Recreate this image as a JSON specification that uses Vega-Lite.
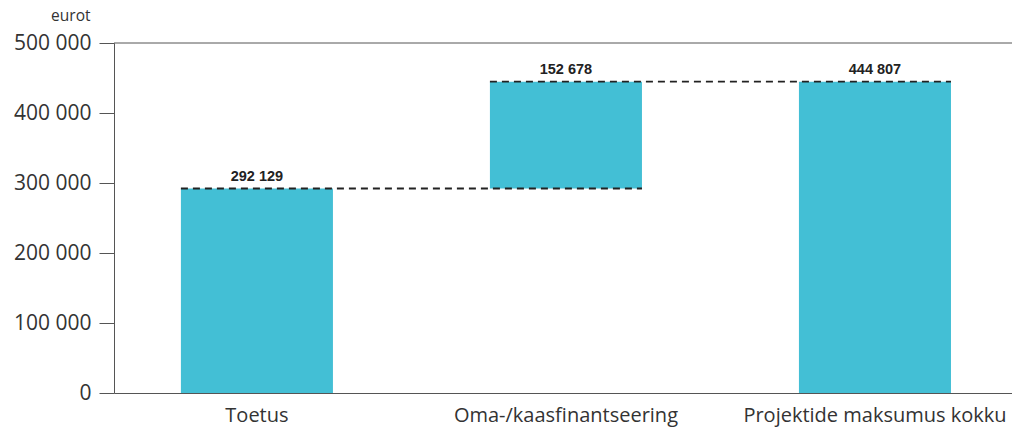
{
  "$schema": "https://vega.github.io/schema/vega-lite/v6.json",
  "autosize": {"type": "none"},
  "width": 898,
  "height": 350,
  "padding": {"left": 114, "top": 43, "right": 0, "bottom": 39},
  "background": "white",
  "config": {"view": {"stroke": null}},
  "datasets": {
    "bars": [
      {"cat": "Toetus", "start": 0, "end": 292129, "label": "292 129"},
      {"cat": "Oma-/kaasfinantseering", "start": 292129, "end": 444807, "label": "152 678"},
      {"cat": "Projektide maksumus kokku", "start": 0, "end": 444807, "label": "444 807"}
    ],
    "links": [
      {"from": "Toetus", "to": "Oma-/kaasfinantseering", "value": 292129},
      {"from": "Oma-/kaasfinantseering", "to": "Projektide maksumus kokku", "value": 444807}
    ],
    "top": [{"v": 500000}]
  },
  "layer": [
    {
      "data": {"name": "top"},
      "mark": {"type": "rule", "color": "#555555", "strokeWidth": 1},
      "encoding": {"y": {"field": "v", "type": "quantitative"}}
    },
    {
      "data": {"name": "bars"},
      "mark": {"type": "bar", "color": "#43BFD5"},
      "encoding": {
        "x": {
          "field": "cat", "type": "nominal", "sort": null,
          "scale": {"paddingInner": 0.508, "paddingOuter": 0.207, "align": 0.523},
          "axis": {"title": null, "labelAngle": 0, "ticks": false, "labelFontSize": 20, "labelFont": "Open Sans", "labelColor": "#333333", "labelPadding": 12, "labelLimit": 0, "domainColor": "#555555", "domainWidth": 1.2, "zindex": 1}
        },
        "y": {
          "field": "end", "type": "quantitative",
          "scale": {"domain": [0, 500000], "nice": false},
          "axis": {
            "title": "eurot", "titleAngle": 0, "titleAlign": "right", "titleBaseline": "alphabetic",
            "titleX": -24, "titleY": -23, "titleFont": "Open Sans", "titleFontSize": 15.5, "titleFontWeight": "normal", "titleColor": "#333333",
            "values": [0, 100000, 200000, 300000, 400000, 500000],
            "labelExpr": "replace(format(datum.value, ','), ',', ' ')",
            "labelFontSize": 21, "labelFont": "Open Sans", "labelColor": "#333333", "labelPadding": 8,
            "tickSize": 15, "tickColor": "#555555", "domainColor": "#555555", "grid": false
          }
        },
        "y2": {"field": "start"}
      }
    },
    {
      "data": {"name": "links"},
      "mark": {"type": "rule", "color": "#222222", "strokeWidth": 1.8, "strokeDash": [7, 5]},
      "encoding": {
        "x": {"field": "from", "type": "nominal", "sort": null, "bandPosition": 0},
        "x2": {"field": "to", "bandPosition": 1},
        "y": {"field": "value", "type": "quantitative"}
      }
    },
    {
      "data": {"name": "bars"},
      "mark": {"type": "text", "font": "Liberation Sans", "fontWeight": "bold", "fontSize": 14.5, "color": "#222222", "baseline": "alphabetic", "dy": -8},
      "encoding": {
        "x": {"field": "cat", "type": "nominal", "sort": null},
        "y": {"field": "end", "type": "quantitative"},
        "text": {"field": "label"}
      }
    }
  ]
}
